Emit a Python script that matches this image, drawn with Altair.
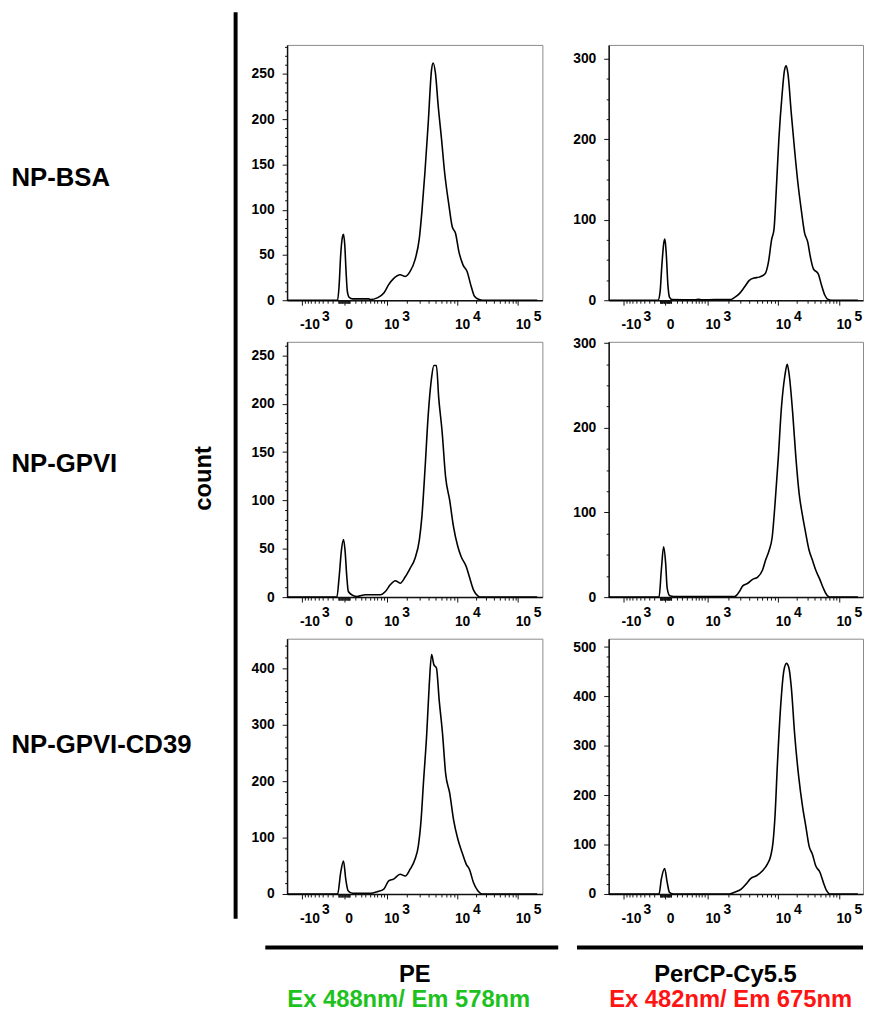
import json
import math
import altair as alt
import pandas as pd

FONT = "Liberation Sans"

# ---------------- data (x in display units: % of the biexponential axis) -------------
pe_bsa_x = [0, 19.8, 20.4, 21.0, 21.7, 22.1, 22.6, 23.1, 23.6, 24.3, 25.6, 32.0, 32.7, 35.3, 37.9,
            39.8, 41.7, 44.3, 46.3, 48.2, 50.1, 51.8, 52.8, 54.0, 55.3, 56.6, 57.2, 58.1, 59.2,
            60.5, 61.7, 63.4, 64.7, 66.0, 67.3, 68.9, 70.5, 72.1, 73.4, 75.3, 76.6, 98]
pe_bsa_y = [0, 0, 17, 50, 70, 72.7, 61, 32, 10, 3.3, 1.5, 1.5, 0.7, 2.6, 8.0,
            17.2, 23.8, 28.1, 26.3, 31.8, 44.6, 68.3, 97.6, 141.4, 196.3, 254.8, 262.1, 251.1, 214.5,
            178, 141.4, 104.9, 81.1, 73.8, 53.7, 39.1, 31.8, 15.4, 4.4, 0.7, 0, 0]

percp_bsa_x = [0, 19.4, 20.2, 20.9, 21.7, 22.1, 22.6, 23.3, 23.9, 24.9, 34.0, 35.3, 36.6, 41.7, 48.2,
               48.8, 51.4, 53.4, 55.3, 57.2, 59.2, 61.5, 62.8, 64.1, 65.0, 65.9, 66.9, 68.2, 69.1,
               69.8, 70.5, 71.8, 73.1, 74.4, 75.7, 77.0, 78.3, 79.2, 80.5, 82.4, 83.7, 85.0, 86.3,
               87.6, 98]
percp_bsa_y = [0, 0, 10, 43, 71.8, 75.9, 59.5, 18.5, 4, 1, 0.5, 1.2, 0.5, 0.8, 0.8,
               2, 8.2, 16.4, 24.6, 27.5, 28.7, 32.8, 47, 75.9, 88, 137, 199, 256, 285,
               291, 281, 232, 186.6, 145.6, 112.8, 84, 71.8, 55.4, 39, 32.8, 18.5, 6.2, 0.8,
               0, 0]

pe_gpvi_x = [0, 19.5, 20.4, 21.3, 22.1, 22.7, 23.4, 24.0, 25.6, 27.5, 30.7, 36.6, 38.5, 40.4, 42.4,
             44.3, 46.3, 48.2, 50.1, 51.8, 52.8, 54.0, 55.3, 56.6, 57.5, 58.5, 59.4, 60.7, 62.1,
             63.7, 65.2, 66.9, 68.2, 70.2, 71.4, 73.0, 74.7, 76.0, 98]
pe_gpvi_y = [0, 0, 21, 48.6, 59.6, 48.6, 21, 5.8, 2, 0.7, 2.4, 2.4, 5.8, 12.7, 17,
             14.4, 21, 29.8, 40, 59, 83, 131, 189, 227, 239.5, 239.5, 206, 172, 124,
             100, 72.6, 52, 41.8, 31.5, 21, 7.5, 1.4, 0, 0]

percp_gpvi_x = [0, 19.8, 20.7, 21.6, 22.4, 23.0, 24.0, 25.6, 39.1, 49.5, 50.1, 51.4, 52.7, 54.7,
                56.6, 58.5, 60.5, 61.7, 63.1, 64.3, 65.4, 66.7, 67.9, 69.3, 70.2, 71.0, 72.4,
                73.6, 74.9, 76.2, 77.5, 78.8, 80.1, 81.4, 83.1, 84.4, 85.7, 86.9, 98]
percp_gpvi_y = [0, 0, 32, 59.3, 39.8, 10.5, 1.6, 0.8, 0.8, 0.8, 1.6, 6.6, 13.3, 16.4,
                21, 23.4, 32, 43.7, 55.4, 71, 110, 165, 223, 262, 275, 262, 215.5,
                165, 122, 96.4, 75, 55.4, 43.7, 32, 20.3, 10.5, 2.7, 0, 0]

pe_cd39_x = [0, 19.8, 21.0, 22.1, 23.0, 23.9, 25.6, 32.7, 35.3, 37.9, 39.8, 41.7, 44.3, 46.3,
             48.2, 50.1, 51.4, 52.5, 53.4, 54.7, 55.7, 56.6, 57.5, 58.5, 59.6, 60.9, 62.1,
             63.7, 65.2, 66.9, 68.6, 70.2, 71.4, 73.0, 74.7, 76.6, 98]
pe_cd39_y = [0, 0, 38, 58.6, 26, 5.9, 1.2, 1.2, 4, 8.8, 23.4, 26.4, 35, 32,
             44, 61.5, 85, 132, 196, 284, 372, 425, 407, 401, 343, 284, 214,
             179, 132, 97, 73, 52.7, 44, 20.5, 5.9, 0, 0]

percp_cd39_x = [0, 19.8, 20.7, 22.0, 23.0, 23.9, 25.6, 47.5, 49.5, 52.1, 54.0, 55.9, 58.1, 60.5,
                62.4, 63.7, 64.6, 65.4, 66.3, 67.6, 68.9, 69.9, 70.8, 71.8, 73.1, 74.7, 76.2,
                77.5, 78.8, 80.1, 81.4, 83.1, 84.4, 85.7, 86.9, 98]
percp_cd39_y = [0, 0, 30, 51.6, 23.5, 3.4, 0, 0, 3.4, 10, 20, 31.5, 37, 47,
                60.4, 77, 104, 158, 258, 379, 453, 467, 459, 419, 325, 238, 178,
                137.5, 97, 80.5, 57, 43.6, 23.5, 6.7, 0, 0]

row_labels = ["NP-BSA", "NP-GPVI", "NP-GPVI-CD39"]
col_titles = ["PE", "PerCP-Cy5.5"]
col_subtitles = ["Ex 488nm/ Em 578nm", "Ex 482nm/ Em 675nm"]
col_sub_colors = ["#1ec21e", "#ff1414"]

# biexponential axis: decade values, their display positions and labels
decade_values = [-1000, 0, 1000, 10000, 100000]
decade_pos = [6.0, 22.3, 39.0, 66.7, 90.5]
decade_base = ["-10", "0", "10", "10", "10"]
decade_exp = ["3", "", "3", "4", "5"]

# y axis settings per panel: (max, label step, minor step)
y_settings = {
    "pe_bsa": (282, 50, 10), "percp_bsa": (317, 100, 25),
    "pe_gpvi": (264, 50, 10), "percp_gpvi": (301.5, 100, 25),
    "pe_cd39": (453, 100, 20), "percp_cd39": (517, 100, 20),
}

# ---------------- axis helpers -------------
W = 500.0


def display_pos(v):
    pairs = list(zip(decade_values, decade_pos))
    for (a, pa), (b, pb) in zip(pairs, pairs[1:]):
        if a <= v <= b:
            ta, tb, tv = math.asinh(a / W), math.asinh(b / W), math.asinh(v / W)
            return round(pa + (pb - pa) * (tv - ta) / (tb - ta), 3)
    return None


minor_vals = ([-100 * k for k in range(1, 10)] + [-10 * k for k in range(1, 10)] +
              [10 * k for k in range(1, 10)] + [100 * k for k in range(1, 10)] +
              [1000 * k for k in range(2, 10)] + [10000 * k for k in range(2, 10)])
minor_pos = [display_pos(v) for v in minor_vals]
x_tick_values = sorted(decade_pos + minor_pos)

ZW = "\u200b"   # zero-width space keeps the padding from being trimmed
NB = "\u00a0"
label_parts = []
for p, base, ex in zip(decade_pos, decade_base, decade_exp):
    if ex:
        pad = ZW + NB * (5 if base.startswith("-") else 4) + "\u2009"
        lines = [pad + ex, base]
    else:
        lines = ["", ZW + NB + base]
    label_parts.append(f"datum.value === {p!r} ? {json.dumps(lines, ensure_ascii=False)}")
x_label_expr = " : ".join(label_parts) + " : ''"
major_list = "[" + ",".join(repr(p) for p in decade_pos) + "]"

x_axis = alt.Axis(
    title=None, values=x_tick_values, labelExpr=x_label_expr,
    tickSize={"condition": {"test": f"indexof({major_list}, datum.value) >= 0", "value": 5}, "value": 3},
    labelAlign="left", labelOffset=-3, labelLineHeight=9, labelPadding=4, labelFontSize=14,
    labelOverlap=False, labelFlush=False, labelBound=False, domainWidth=1.5,
)


def y_axis(key, title=None, title_y=0):
    ymax, step, minor = y_settings[key]
    vals = [v for v in range(0, int(ymax) + 1, minor)]
    kw = dict(
        values=vals,
        labelExpr=f"datum.value % {step} === 0 ? datum.label : ''",
        tickSize={"condition": {"test": f"datum.value % {step} === 0", "value": 5}, "value": 2.5},
        labelOverlap=False, labelFlush=False, labelPadding=8, format="d", domainWidth=1.5,
        labelFontSize=14,
    )
    if title:
        kw.update(title=title, titleAngle=0, titleAlign="left", titleBaseline="middle",
                  titleX=-279, titleY=title_y, titleFont=FONT, titleFontSize=26,
                  titleFontWeight="bold", titleColor="black")
    else:
        kw.update(title=None)
    return alt.Axis(**kw)


one = pd.DataFrame({"k": [0]})


def panel(key, xs, ys, title=None, title_y=0, extras=(), width=258):
    ymax = y_settings[key][0]
    df = pd.DataFrame({"x": xs, "count": ys})
    line = alt.Chart(df).mark_line(color="black", strokeWidth=1.6, strokeJoin="round",
                                   interpolate="monotone").encode(
        x=alt.X("x:Q", scale=alt.Scale(domain=[0, 100], nice=False, zero=False), axis=x_axis),
        y=alt.Y("count:Q", scale=alt.Scale(domain=[0, ymax], nice=False), axis=y_axis(key, title, title_y)),
    )
    return alt.layer(line, *extras).properties(width=width, height=258)


def bar(x1, x2, y1, y2):
    # thick black separator drawn as a filled rectangle (exact bounds)
    return alt.Chart(one).mark_rect(color="black", strokeWidth=0).encode(
        x=alt.value(x1), x2=alt.value(x2), y=alt.value(y1), y2=alt.value(y2))


def label(text, x, y, color="black", size=24, angle=0, align="center"):
    return alt.Chart(one).mark_text(text=text, font=FONT, fontSize=size, fontWeight="bold",
                                    color=color, angle=angle, align=align,
                                    baseline="middle").encode(x=alt.value(x), y=alt.value(y))


panels = [
    panel("pe_bsa", pe_bsa_x, pe_bsa_y, row_labels[0], 134, [bar(-54, -50, -33, 279)]),
    panel("percp_bsa", percp_bsa_x, percp_bsa_y, width=257),
    panel("pe_gpvi", pe_gpvi_x, pe_gpvi_y, row_labels[1], 123,
          [bar(-54, -50, -21, 279), label("count", -84, 138, angle=270)]),
    panel("percp_gpvi", percp_gpvi_x, percp_gpvi_y, width=257),
    panel("pe_cd39", pe_cd39_x, pe_cd39_y, row_labels[2], 107,
          [bar(-54, -50, -21, 283), bar(-22, 274, 310, 314),
           label(col_titles[0], 129, 340), label(col_subtitles[0], 123, 365, col_sub_colors[0])]),
    panel("percp_cd39", percp_cd39_x, percp_cd39_y, width=257, extras=[
        bar(-32, 257, 310, 314),
        label(col_titles[1], 118, 340),
        label(col_subtitles[1], 246, 365, col_sub_colors[1], align="right")]),
]

chart = alt.concat(*panels, columns=2, spacing={"row": 42, "column": 67}, bounds="flush").properties(
    padding={"left": 2, "top": -2, "right": 0, "bottom": 0}
).configure_view(stroke="#8a8a8a", strokeWidth=1).configure_axis(
    labelFont=FONT, labelFontWeight="bold", labelColor="black",
    domainColor="#111", tickColor="#111", tickWidth=1, grid=False,
)

chart.save("out.html", embed_options={"renderer": "svg", "actions": False})
